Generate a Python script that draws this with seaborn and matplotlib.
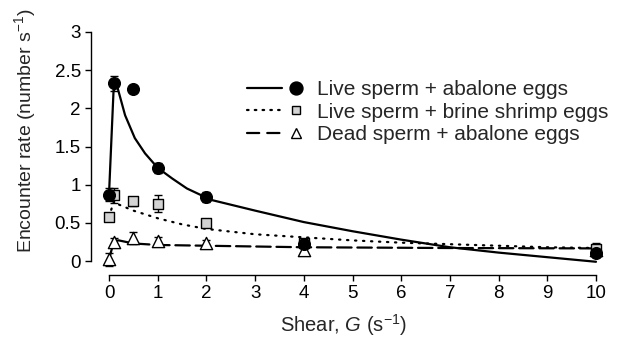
import matplotlib
matplotlib.use("Agg")
import matplotlib.pyplot as plt
import seaborn as sns
import pandas as pd
from matplotlib.legend_handler import HandlerBase
from matplotlib.lines import Line2D

# ---- data ----
shear = [0, 0.1, 0.5, 1, 2, 4, 10]
live_abalone = [0.87, 2.33, 2.25, 1.22, 0.84, 0.22, 0.10]
live_abalone_err = [0.08, 0.10, 0.04, 0.07, 0.07, 0.03, 0.05]
live_brine = [0.57, 0.86, 0.78, 0.75, 0.50, 0.24, 0.16]
live_brine_err = [0.03, 0.10, 0.06, 0.11, 0.04, 0.03, 0.08]
dead_abalone = [0.02, 0.25, 0.30, 0.26, 0.24, 0.15, 0.15]
dead_abalone_err = [0.08, 0.05, 0.08, 0.05, 0.03, 0.03, 0.03]

fit_live_abalone_x = [0, 0.1, 0.18, 0.33, 0.53, 0.74, 1.0, 1.3, 1.6, 2.1, 3, 4, 5, 6, 7, 8, 9, 10]
fit_live_abalone_y = [0.87, 2.33, 2.26, 1.91, 1.61, 1.41, 1.22, 1.08, 0.95, 0.80, 0.66, 0.51, 0.39, 0.28, 0.18, 0.11, 0.05, -0.01]
fit_live_brine_x = [0, 0.1, 0.2, 0.5, 1, 1.5, 2, 3, 4, 5, 6, 7, 8, 9, 10]
fit_live_brine_y = [0.57, 0.79, 0.74, 0.66, 0.56, 0.48, 0.42, 0.35, 0.31, 0.27, 0.24, 0.22, 0.20, 0.18, 0.17]
fit_dead_x = [0, 0.1, 0.2, 0.5, 1, 2, 4, 7, 10]
fit_dead_y = [0.02, 0.26, 0.27, 0.23, 0.21, 0.20, 0.18, 0.17, 0.165]

labels = ["Live sperm + abalone eggs", "Live sperm + brine shrimp eggs", "Dead sperm + abalone eggs"]
xticks = list(range(0, 11))
yticks = [0, 0.5, 1, 1.5, 2, 2.5, 3]
yticklabels = ["0", "0.5", "1", "1.5", "2", "2.5", "3"]

# ---- style ----
sns.set_style("ticks")
plt.rcParams["font.family"] = ["Liberation Sans", "DejaVu Sans"]
plt.rcParams["mathtext.fontset"] = "custom"
plt.rcParams["mathtext.rm"] = "Liberation Sans"
plt.rcParams["mathtext.it"] = "Liberation Sans:italic"
plt.rcParams["axes.unicode_minus"] = True

fig = plt.figure(figsize=(6.26, 3.39), dpi=100)
ax = fig.add_axes([109 / 626, 1 - 261 / 339, (596 - 109) / 626, (261 - 32) / 339])

lw = 1.6
fits = [
    (fit_live_abalone_x, fit_live_abalone_y, "-", "-"),
    (fit_live_brine_x, fit_live_brine_y, (0, (0.6, 3.0)), (0, (0.7, 2.8))),
    (fit_dead_x, fit_dead_y, (0, (6.5, 2.6)), (0, (5.5, 3.6))),
]
for fx, fy, ls, _ in fits:
    df = pd.DataFrame({"x": fx, "y": fy})
    sns.lineplot(data=df, x="x", y="y", ax=ax, color="black", linewidth=lw,
                 linestyle=ls, sort=False, estimator=None, clip_on=False,
                 dash_capstyle="round" if ls != "-" else "butt")

series = [
    (dead_abalone, dead_abalone_err, "^", "white", 8.8),
    (live_brine, live_brine_err, "s", "#d3d3d3", 7.6),
    (live_abalone, live_abalone_err, "o", "black", 8.4),
]
for ys, es, m, fc, ms in series:
    ax.errorbar(shear, ys, yerr=es, fmt="none", ecolor="black", elinewidth=1.0,
                capsize=3.0, capthick=1.0, clip_on=False, zorder=3)
    df = pd.DataFrame({"x": shear, "y": ys})
    sns.scatterplot(data=df, x="x", y="y", ax=ax, marker=m, color=fc,
                    edgecolor="black", linewidth=1.0, s=ms ** 2, clip_on=False,
                    zorder=4, legend=False)

ax.set_xlim(0, 10)
ax.set_ylim(0, 3)
ax.set_xticks(xticks)
ax.set_xticklabels([str(t) for t in xticks])
ax.set_yticks(yticks)
ax.set_yticklabels(yticklabels)
ax.tick_params(axis="both", labelsize=13.5, length=4.3, width=1.0, color="black",
               labelcolor="black", direction="out", pad=3)
sns.despine(ax=ax)
ax.spines["left"].set_position(("outward", 13))
ax.spines["bottom"].set_position(("outward", 10))
for s in ["left", "bottom"]:
    ax.spines[s].set_linewidth(1.0)
    ax.spines[s].set_color("black")

ax.set_xlabel(r"Shear, $G$ (s$^{-1}$)", fontsize=14.5)
ax.xaxis.set_label_coords((344 - 109) / 487, (261 - 312) / 229)
ax.set_ylabel(r"Encounter rate (number s$^{-1}$)", fontsize=14)
ax.yaxis.set_label_coords((38 - 109) / 487, (261 - 131) / 229)


class LineMarkerHandler(HandlerBase):
    def create_artists(self, legend, orig_handle, xdescent, ydescent, width,
                       height, fontsize, trans):
        ls, mk = orig_handle
        y = height / 2 - ydescent
        x0 = -xdescent
        line = Line2D([x0, x0 + 0.6 * width], [y, y], color="black",
                      linewidth=lw, linestyle=ls,
                      dash_capstyle="round" if ls != "-" else "butt")
        marker = Line2D([x0 + 0.845 * width], [y], linestyle="none",
                        marker=mk.get_marker(), markersize=mk.get_markersize(),
                        markerfacecolor=mk.get_markerfacecolor(),
                        markeredgecolor="black", markeredgewidth=1.0)
        for a in (line, marker):
            a.set_transform(trans)
        return [line, marker]


class LegendKey:
    def __init__(self, ls, mk):
        self.ls = ls
        self.mk = mk

    def __iter__(self):
        return iter((self.ls, self.mk))


handles = []
leg_marker_sizes = [9.3, 6.0, 7.5]
for (fx, fy, ls, lls), (ys, es, m, fc, ms), lms in zip(fits, series[::-1], leg_marker_sizes):
    mk = Line2D([], [], linestyle="none", marker=m, markerfacecolor=fc,
                markeredgecolor="black", markersize=lms)
    handles.append(LegendKey(lls, mk))

leg_fs = 15
leg = ax.legend(handles, labels, handler_map={LegendKey: LineMarkerHandler()},
                loc="center left", bbox_to_anchor=((247 - 109) / 487, (261 - 112) / 229),
                frameon=False, fontsize=leg_fs, handlelength=2.8, handletextpad=0.55,
                labelspacing=0.17, borderaxespad=0, borderpad=0, handleheight=0.7)

fig.savefig("out.png", dpi=100)
